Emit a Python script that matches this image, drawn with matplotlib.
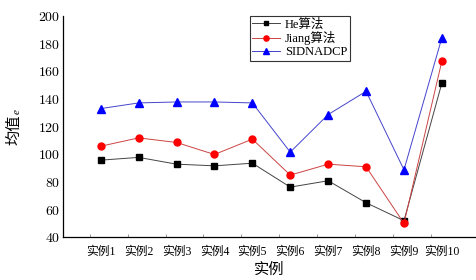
import numpy as np
import matplotlib.pyplot as plt
from matplotlib.ticker import FuncFormatter

plt.rcParams['font.family'] = ['Liberation Serif', 'Noto Sans CJK SC']
plt.rcParams['mathtext.fontset'] = 'cm'

cases = ['实例1', '实例2', '实例3', '实例4', '实例5',
         '实例6', '实例7', '实例8', '实例9', '实例10']
he = [95.8, 97.8, 92.9, 91.7, 93.6, 76.3, 80.9, 65.0, 52.0, 151.6]
jiang = [105.9, 111.9, 108.6, 99.9, 111.0, 85.0, 92.9, 91.0, 50.1, 167.5]
sidnadcp = [133.1, 137.2, 137.9, 137.9, 137.2, 101.6, 128.8, 145.6, 88.8, 184.4]

x = np.arange(1, len(cases) + 1)

fig = plt.figure(figsize=(4.76, 2.8), dpi=100)
ax = fig.add_axes([0.132, 0.1525, 0.868, 0.79])

ax.plot(x, he, color='#444444', lw=0.7, marker='s', ms=4.5,
        mfc='black', mec='black', label='He算法')
ax.plot(x, jiang, color='#cc4444', lw=0.7, marker='o', ms=5,
        mfc='red', mec='red', label='Jiang算法')
ax.plot(x, sidnadcp, color='#4444cc', lw=0.7, marker='^', ms=5.5,
        mfc='blue', mec='blue', label='SIDNADCP')

ax.set_xlim(0, 10.9)
ax.set_ylim(40, 200)
ax.set_yticks(np.arange(40, 201, 20))
ax.yaxis.set_major_formatter(FuncFormatter(lambda v, p: f'${v:.0f}$'))
ax.set_xticks(x)
ax.set_xticklabels(cases, fontsize=8.5)
ax.set_xticks(x - 0.29, minor=True)
ax.tick_params(axis='x', which='major', length=0, pad=6)
ax.tick_params(axis='x', which='minor', direction='in', length=2.5, width=0.6, color='#888888')
ax.tick_params(axis='y', length=0, labelsize=10, pad=2)

for side in ['top', 'right']:
    ax.spines[side].set_visible(False)
for side in ['left', 'bottom']:
    ax.spines[side].set_linewidth(0.9)

ax.set_xlabel('实例', fontsize=11, labelpad=4)
fig.text(0.030, 0.536, '均值', rotation=90, fontsize=11, ha='center', va='center')
fig.text(0.036, 0.603, 'e', rotation=90, fontsize=8, style='italic',
         ha='center', va='center')

leg = ax.legend(loc='upper left', bbox_to_anchor=(0.453, 1.0), fontsize=9,
                frameon=True, fancybox=False, edgecolor='black',
                handlelength=2.2, handletextpad=0.4, borderpad=0.2,
                labelspacing=0.05, borderaxespad=0, markerscale=0.75)
leg.get_frame().set_linewidth(0.8)

fig.savefig('out.png', dpi=100)
